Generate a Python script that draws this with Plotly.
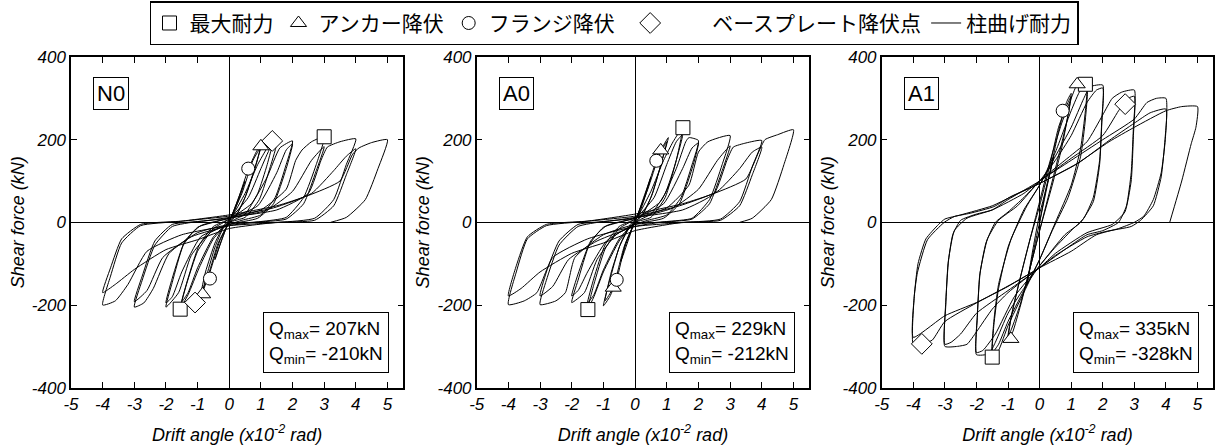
import plotly.graph_objects as go

# ---------------- data (drift x10^-2 rad, shear kN) ----------------
n0_path = [(0,0),(0.25,50),(0.5,100),(0.35,65),(0.15,25),(0,5),(-0.2,-35),(-0.45,-90),(-0.3,-55),(-0.1,-15),(0,0),
(0.3,60),(0.6,128),(0.85,170),(1.0,188),(0.85,140),(0.55,70),(0.25,20),(0,0),(-0.3,-45),(-0.6,-118),(-0.85,-170),(-0.7,-125),(-0.45,-60),(-0.2,-15),(0,5),
(0.4,70),(0.75,150),(1.0,182),(0.8,130),(0.5,60),(0.2,15),(0,0),(-0.35,-50),(-0.65,-125),(-0.9,-175),(-0.75,-120),(-0.45,-50),(-0.15,-5),(0.05,10),
(0.5,70),(0.9,140),(1.2,180),(1.38,197),(1.2,140),(0.9,70),(0.5,20),(0,0),(-0.5,-40),(-0.95,-110),(-1.3,-175),(-1.55,-208),(-1.35,-150),(-1.0,-70),(-0.5,-15),(0,8),
(0.6,60),(1.0,130),(1.3,180),(1.5,192),(1.3,135),(0.95,55),(0.5,12),(0,0),(-0.5,-35),(-1.0,-110),(-1.3,-170),(-1.5,-192),(-1.3,-135),(-0.95,-55),(-0.5,-10),(0,8),
(0.7,45),(1.2,110),(1.6,180),(2.0,197),(1.8,140),(1.45,60),(1.0,18),(0.4,5),(0,-5),(-0.6,-25),(-1.2,-80),(-1.6,-170),(-2.0,-205),(-1.8,-145),(-1.45,-55),(-1.0,-12),(-0.4,2),(0,10),
(0.9,40),(1.5,120),(1.8,175),(2.0,190),(1.8,130),(1.4,45),(0.9,10),(0,-5),(-0.9,-35),(-1.5,-120),(-1.8,-180),(-2.0,-195),(-1.8,-135),(-1.4,-45),(-0.9,-8),(0,10),
(1.0,30),(1.8,80),(2.1,150),(2.3,175),(2.6,195),(3.0,207),(2.75,140),(2.35,60),(1.8,12),(1.0,2),(0,-5),(-1.0,-25),(-1.9,-75),(-2.4,-160),(-2.7,-195),(-3.0,-205),(-2.75,-140),(-2.35,-55),(-1.8,-10),(-1.0,2),(0,10),
(1.2,30),(2.0,75),(2.6,150),(3.0,183),(2.75,125),(2.35,45),(1.8,8),(0.8,0),(0,-8),(-1.2,-35),(-2.1,-85),(-2.6,-165),(-3.0,-192),(-2.75,-130),(-2.35,-45),(-1.8,-5),(-0.8,3),(0,12),
(1.5,30),(2.5,70),(2.9,150),(3.1,182),(3.5,195),(4.0,202),(3.7,140),(3.3,55),(2.7,10),(1.6,0),(0,-8),(-1.5,-30),(-2.6,-70),(-3.2,-150),(-3.6,-190),(-4.0,-200),(-3.75,-130),(-3.4,-50),(-2.8,-8),(-1.6,2),(0,15),
(1.4,35),(2.6,70),(3.3,125),(3.7,160),(4.0,178),(3.7,115),(3.3,40),(2.7,5),(1.5,0),(0,-15),(-1.0,-42),(-2.0,-66),(-3.0,-114),(-3.6,-150),(-4.0,-170),(-3.75,-110),(-3.4,-40),(-2.8,-5),(-1.5,3),(0,18),
(1.5,40),(2.5,65),(3.5,100),(3.9,165),(4.1,180),(4.5,193),(5.0,200),(4.7,130),(4.3,55),(3.7,12),(3.2,0)]

a0_path = [(0,0),(0.25,55),(0.5,110),(0.35,70),(0.15,25),(0,5),(-0.2,-40),(-0.45,-95),(-0.3,-55),(-0.1,-15),(0,0),
(0.35,75),(0.67,149),(0.85,180),(1.05,205),(0.85,150),(0.55,70),(0.25,20),(0,0),(-0.3,-50),(-0.58,-139),(-0.8,-180),(-1.0,-202),(-0.8,-140),(-0.5,-60),(-0.2,-15),(0,5),
(0.4,80),(0.75,160),(1.0,195),(0.8,135),(0.5,60),(0.2,15),(0,0),(-0.35,-60),(-0.69,-158),(-0.95,-190),(-0.75,-120),(-0.45,-50),(-0.15,-5),(0.05,10),
(0.5,75),(0.9,150),(1.2,195),(1.5,229),(1.3,150),(0.95,70),(0.5,20),(0,0),(-0.5,-45),(-1.0,-120),(-1.3,-180),(-1.5,-211),(-1.3,-150),(-0.95,-65),(-0.5,-15),(0,8),
(0.6,60),(1.0,140),(1.3,195),(1.5,212),(1.3,150),(0.95,60),(0.5,12),(0,0),(-0.5,-40),(-1.0,-115),(-1.3,-175),(-1.5,-195),(-1.3,-135),(-0.95,-55),(-0.5,-10),(0,8),
(0.8,50),(1.3,130),(1.6,195),(1.7,205),(2.0,198),(1.8,140),(1.45,60),(1.0,18),(0.4,5),(0,-5),(-0.6,-30),(-1.2,-90),(-1.6,-170),(-2.0,-194),(-1.8,-140),(-1.45,-55),(-1.0,-12),(-0.4,2),(0,10),
(0.9,45),(1.5,130),(1.8,180),(2.0,192),(1.8,130),(1.4,45),(0.9,10),(0,-5),(-0.9,-45),(-1.5,-120),(-1.8,-165),(-2.0,-178),(-1.8,-125),(-1.4,-45),(-0.9,-8),(0,10),
(1.0,35),(1.7,90),(2.0,170),(2.3,195),(3.0,210),(2.75,140),(2.35,55),(1.8,10),(1.0,2),(0,-5),(-1.0,-30),(-1.9,-85),(-2.2,-170),(-2.5,-190),(-3.0,-199),(-2.8,-140),(-2.4,-55),(-1.8,-10),(-1.0,2),(0,10),
(1.2,35),(2.0,80),(2.6,150),(3.0,185),(2.75,125),(2.35,45),(1.8,8),(0.8,0),(0,-10),(-1.2,-45),(-2.1,-90),(-2.6,-155),(-3.0,-178),(-2.8,-120),(-2.4,-45),(-1.8,-5),(-0.8,3),(0,12),
(1.5,30),(2.5,70),(2.9,150),(3.1,182),(3.5,192),(4.0,198),(3.7,135),(3.3,50),(2.7,8),(1.6,0),(0,-10),(-1.5,-40),(-2.6,-85),(-3.1,-170),(-3.5,-190),(-4.0,-199),(-3.75,-120),(-3.4,-40),(-2.8,-8),(-1.6,2),(0,15),
(1.4,40),(2.6,75),(3.3,130),(3.7,170),(4.0,182),(3.7,115),(3.3,40),(2.7,5),(1.5,0),(0,-20),(-1.0,-50),(-2.0,-75),(-3.0,-120),(-3.6,-160),(-4.0,-178),(-3.75,-105),(-3.4,-35),(-2.8,-5),(-1.5,3),(0,20),
(1.5,45),(2.5,70),(3.5,105),(3.9,170),(4.1,200),(4.5,212),(5.0,224),(4.7,140),(4.3,55),(3.7,10),(3.3,0)]

a1_path = [(0,0),(0.2,80),(0.45,160),(0.3,110),(0.1,50),(0,20),(-0.2,-60),(-0.4,-150),(-0.25,-90),(0,0),
(0.3,110),(0.6,220),(0.85,290),(1.0,312),(0.9,260),(0.7,180),(0.4,90),(0,-20),(-0.3,-110),(-0.6,-200),(-0.85,-265),(-1.0,-285),(-0.9,-230),(-0.6,-130),(-0.3,-40),(0,40),
(0.3,130),(0.6,230),(0.9,290),(1.0,305),(0.85,240),(0.5,130),(0.1,10),(-0.3,-110),(-0.6,-195),(-0.9,-260),(-1.0,-275),(-0.85,-210),(-0.5,-100),(-0.1,20),(0,50),
(0.3,140),(0.7,240),(1.0,300),(1.2,335),(1.4,340),(1.5,335),(1.45,270),(1.3,180),(1.0,90),(0.5,0),(0,-90),(-0.5,-170),(-1.0,-250),(-1.3,-310),(-1.5,-328),(-1.45,-250),(-1.3,-160),(-1.0,-60),(-0.5,30),(0,90),
(0.5,170),(1.0,270),(1.3,320),(1.5,325),(1.45,250),(1.3,160),(0.9,60),(0.4,-20),(0,-90),(-0.5,-165),(-1.0,-240),(-1.3,-295),(-1.5,-315),(-1.45,-240),(-1.3,-150),(-0.9,-40),(-0.4,40),(0,90),
(0.5,160),(1.0,230),(1.4,300),(1.6,328),(2.0,332),(1.97,250),(1.9,150),(1.7,60),(1.4,10),(1.0,-20),(0.5,-60),(0,-105),(-0.5,-160),(-1.0,-220),(-1.4,-290),(-1.6,-318),(-2.0,-320),(-1.97,-230),(-1.9,-130),(-1.7,-50),(-1.4,0),(-1.0,25),(-0.5,60),(0,100),
(0.5,150),(1.0,210),(1.5,290),(1.8,320),(2.0,325),(1.97,240),(1.9,140),(1.7,50),(1.3,0),(0.8,-30),(0,-105),(-0.8,-180),(-1.4,-270),(-1.8,-310),(-2.0,-315),(-1.97,-220),(-1.88,-120),(-1.65,-40),(-1.3,5),(-0.7,40),(0,100),
(0.8,150),(1.5,195),(2.0,260),(2.3,300),(2.6,315),(3.0,320),(2.97,230),(2.9,120),(2.75,40),(2.5,0),(2.0,-20),(1.5,-30),(1.0,-55),(0,-110),(-1.0,-170),(-1.5,-210),(-2.0,-265),(-2.3,-295),(-2.6,-300),(-3.0,-300),(-2.97,-200),(-2.9,-100),(-2.75,-30),(-2.5,5),(-2.0,20),(-1.5,30),(-1.0,55),(0,100),
(1.0,155),(2.0,210),(2.5,270),(2.8,300),(3.0,305),(2.97,210),(2.9,100),(2.7,25),(2.3,-5),(1.5,-25),(0.5,-75),(0,-110),(-1.0,-165),(-2.0,-220),(-2.5,-270),(-2.8,-290),(-3.0,-295),(-2.97,-190),(-2.88,-90),(-2.7,-20),(-2.3,10),(-1.5,30),(-0.5,70),(0,100),
(1.0,150),(2.0,200),(3.0,250),(3.4,290),(3.7,300),(4.0,300),(3.98,200),(3.85,120),(3.6,55),(3.3,15),(3.0,0),(2.5,-15),(1.8,-30),(1.0,-70),(0,-110),(-1.0,-155),(-2.0,-195),(-3.0,-240),(-3.4,-285),(-3.7,-293),(-4.0,-295),(-3.97,-180),(-3.85,-100),(-3.6,-40),(-3.2,-5),(-3.0,8),(-2.5,18),(-1.5,40),(-0.9,62),(0,94),
(1.2,142),(2.2,198),(3.0,240),(3.5,265),(4.0,274),(3.97,200),(3.85,110),(3.6,40),(3.2,5),(2.9,-10),(2.1,-22),(1.5,-35),(0.5,-80),(0,-110),(-1.0,-154),(-2.0,-194),(-3.0,-226),(-4.0,-278),(-3.97,-180),(-3.87,-122),(-3.55,-42),(-3.02,0),(-2.7,14),(-2.2,22),(-1.45,38),(-0.92,62),(0,94),
(1.18,142),(2.2,195),(3.0,230),(4.0,270),(4.5,280),(5.0,280),(4.95,230),(4.8,190),(4.5,100),(4.12,0)]

# event markers: (drift, shear)
n0_qmax = [(3.0, 207), (-1.55, -210)]
n0_anchor = [(1.0, 184), (-0.84, -174)]
n0_flange = [(0.6, 130), (-0.61, -136)]
n0_base = [(1.36, 197), (-1.08, -194)]

a0_qmax = [(1.51, 229), (-1.49, -211)]
a0_anchor = [(0.81, 174), (-0.69, -158)]
a0_flange = [(0.67, 149), (-0.58, -139)]
a0_base = []

a1_qmax = [(1.45, 334), (-1.5, -326)]
a1_anchor = [(1.19, 334), (-0.91, -282)]
a1_flange = [(0.73, 270)]
a1_base = [(2.71, 286), (-3.73, -294)]

panel_names = ["N0", "A0", "A1"]
q_max = [207, 229, 335]
q_min = [-210, -212, -328]

x_tickvals = [-5, -4, -3, -2, -1, 0, 1, 2, 3, 4, 5]
x_ticktext = ["-5", "-4", "-3", "-2", "-1", "0", "1", "2", "3", "4", "5"]
y_tickvals = [-400, -200, 0, 200, 400]
y_ticktext = ["-400", "-200", "0", "200", "400"]

legend_names = ["最大耐力", "アンカー降伏", "フランジ降伏", "ベースプレート降伏点", "柱曲げ耐力"]

# ---------------- figure ----------------
FONT = "Liberation Sans, Arial, sans-serif"
JP = "Noto Sans CJK JP"

paths = [n0_path, a0_path, a1_path]
events = [
    [n0_qmax, n0_anchor, n0_flange, n0_base],
    [a0_qmax, a0_anchor, a0_flange, a0_base],
    [a1_qmax, a1_anchor, a1_flange, a1_base],
]
symbols = ["square", "triangle-up", "circle", "diamond"]
sizes = [14, 14, 13, 16]
# legend label spacing (visual gaps as in the original legend line)
legend_labels = [legend_names[0], legend_names[1], legend_names[2] + "\u2002",
                 "\u3000\u3000" + legend_names[3], legend_names[4]]

x_domains = [[71/1215, 403.3/1215], [476.7/1215, 809.3/1215], [881.7/1215, 1213.3/1215]]
y_domain = [1 - 387.7/445, 1 - 57/445]

fig = go.Figure()

for i, path in enumerate(paths):
    xa = "x" if i == 0 else f"x{i+1}"
    ya = "y" if i == 0 else f"y{i+1}"
    fig.add_trace(go.Scatter(
        x=[p[0] for p in path], y=[p[1] for p in path], mode="lines",
        line=dict(color="black", width=1, shape="spline", smoothing=0.5),
        xaxis=xa, yaxis=ya, showlegend=False, hoverinfo="skip"))
    for k, pts in enumerate(events[i]):
        fig.add_trace(go.Scatter(
            x=[p[0] for p in pts], y=[p[1] for p in pts], mode="markers",
            marker=dict(symbol=symbols[k], size=sizes[k], color="white",
                        line=dict(color="black", width=1)),
            name=legend_labels[k], legendgroup=legend_names[k],
            showlegend=(i == 0), xaxis=xa, yaxis=ya, hoverinfo="skip"))

# legend-only entry for column bending capacity
fig.add_trace(go.Scatter(x=[None], y=[None], mode="lines",
                         line=dict(color="black", width=1),
                         name=legend_labels[4], showlegend=True))

axis_common = dict(
    showline=True, linecolor="black", linewidth=1.5, mirror="ticks",
    ticks="inside", ticklen=6, tickwidth=1, tickcolor="black",
    showgrid=False, zeroline=True, zerolinecolor="black", zerolinewidth=1,
    tickfont=dict(family=FONT, size=17, color="black", style="italic"),
    automargin=False,
)

for i in range(3):
    sx = "" if i == 0 else str(i + 1)
    fig.layout["xaxis" + sx] = dict(
        axis_common, domain=x_domains[i], range=[-5, 5.5],
        tickvals=x_tickvals, ticktext=x_ticktext,
        anchor="y" + sx,
        title=dict(text="Drift angle (x10<sup>-2</sup> rad)", standoff=17,
                   font=dict(family=FONT, size=18, color="black", style="italic")),
    )
    fig.layout["yaxis" + sx] = dict(
        axis_common, domain=y_domain, range=[-400, 400],
        tickvals=y_tickvals, ticktext=y_ticktext,
        anchor="x" + sx,
        title=dict(text="Shear force (kN)", standoff=3,
                   font=dict(family=FONT, size=18, color="black", style="italic")),
    )
    fig.add_annotation(
        x=-3.74, y=312, xref="x" + sx, yref="y" + sx,
        text=panel_names[i], showarrow=False,
        font=dict(family=FONT, size=22, color="black"),
        bordercolor="black", borderwidth=1, borderpad=3, bgcolor="white")
    fig.add_annotation(
        x=3.05, y=-290, xref="x" + sx, yref="y" + sx,
        text=f"Q<sub>max</sub>= {q_max[i]}kN<br>Q<sub>min</sub>= {q_min[i]}kN",
        showarrow=False, align="left",
        font=dict(family=FONT, size=19, color="black"),
        bordercolor="black", borderwidth=1, borderpad=5, bgcolor="white")

fig.update_layout(
    width=1215, height=445,
    margin=dict(l=0, r=0, t=0, b=0),
    paper_bgcolor="white", plot_bgcolor="white",
    legend=dict(orientation="h", x=614/1215, xanchor="center", y=0.997, yanchor="top",
                bordercolor="black", borderwidth=1.5,
                font=dict(family=JP, size=21, color="black"),
                itemclick=False, itemdoubleclick=False),
)

fig.write_html("out.html")
